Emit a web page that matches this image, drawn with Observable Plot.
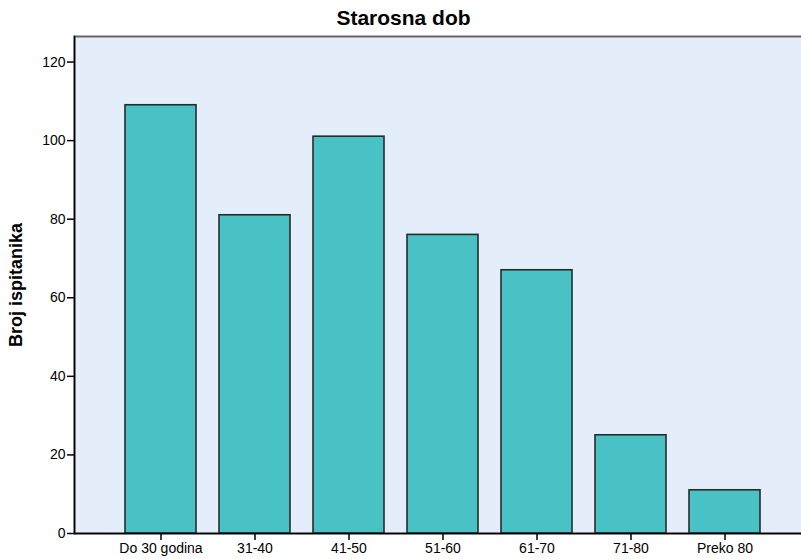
<!DOCTYPE html>
<html>
<head>
<meta charset="utf-8">
<script src="https://cdn.jsdelivr.net/npm/d3@7"></script>
<script src="https://cdn.jsdelivr.net/npm/@observablehq/plot@0.6"></script>
<style>
  html, body { margin: 0; padding: 0; background: white; overflow: hidden; }
  #wrap { position: relative; width: 801px; height: 559px; overflow: hidden; }
  #title { position: absolute; top: 6px; left: 3px; width: 801px; text-align: center;
           font-family: "Liberation Sans", Arial, sans-serif; font-weight: bold; font-size: 21px; color: #000; }
</style>
</head>
<body>
<div id="wrap">
  <div id="chart"></div>
  <div id="title">Starosna dob</div>
</div>
<script>
const categories = ["Do 30 godina", "31-40", "41-50", "51-60", "61-70", "71-80", "Preko 80"];
const counts = [109, 81, 101, 76, 67, 25, 11];
const yTicks = [0, 20, 40, 60, 80, 100, 120];

const data = categories.map((c, i) => ({category: c, count: counts[i]}));

const chart = Plot.plot({
  width: 801,
  height: 559,
  marginLeft: 74,
  marginRight: -10,
  marginTop: 36,
  marginBottom: 26,
  style: {fontFamily: "'Liberation Sans', Arial, sans-serif", fontSize: "14px", color: "#000", background: "white", overflow: "hidden"},
  x: {domain: categories, paddingInner: 0.25, paddingOuter: 0.52, label: null},
  y: {domain: [0, 126.5], label: null},
  marks: [
    Plot.frame({fill: "#e3eefa", stroke: "#666", strokeWidth: 2}),
    Plot.barY(data, {x: "category", y: "count", fill: "#48c2c5", stroke: "#2a2a2a", strokeWidth: 1.6}),
    Plot.axisX({tickSize: 7, tickPadding: 3, label: null, stroke: "#000", strokeWidth: 1.5}),
    Plot.axisY({ticks: yTicks, tickSize: 7, tickPadding: 2, label: "Broj ispitanika", labelAnchor: "center", labelArrow: false, labelOffset: 65, stroke: "#000", strokeWidth: 1.5}),
    Plot.ruleY([0], {stroke: "#000", strokeWidth: 1.5}),
    Plot.frame({anchor: "left", stroke: "#000", strokeWidth: 1.5})
  ]
});
document.getElementById("chart").appendChild(chart);
// bold the y axis label
chart.querySelectorAll("[aria-label='y-axis label'] text, [aria-label='y-axis label']").forEach(n => {
  n.setAttribute("font-weight", "bold");
  n.setAttribute("font-size", "18px");
});
</script>
</body>
</html>
